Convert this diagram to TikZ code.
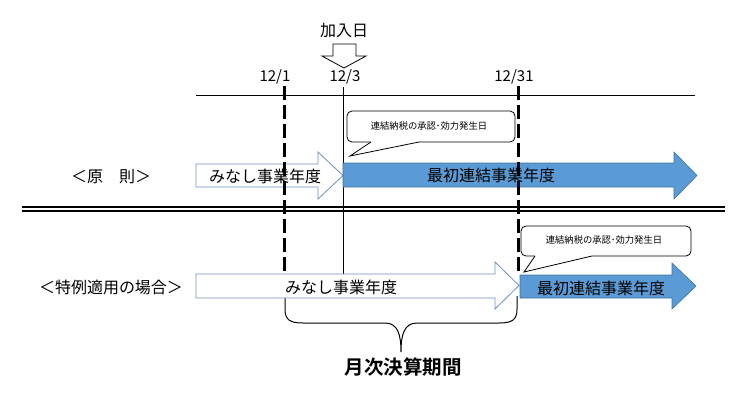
\documentclass[tikz,border=0pt]{standalone}
\usepackage{fontspec}
\setmainfont{Noto Sans CJK JP}
\newfontfamily\jpbold{Noto Sans CJK JP Bold}
\definecolor{bluefill}{RGB}{91,155,213}
\definecolor{blueedge}{RGB}{65,113,156}
\definecolor{whiteedge}{RGB}{110,145,190}
\tikzset{
  lbl/.style={inner sep=0pt, anchor=center},
  txtL/.style={lbl, font=\fontsize{16}{18}\selectfont},
  txtD/.style={lbl, font=\fontsize{15}{17}\selectfont},
  txtS/.style={lbl, font=\fontsize{9.3}{11}\selectfont},
  callout/.style={draw=black, fill=white, line width=0.8pt, rounded corners=5pt},
  whitearrow/.style={draw=whiteedge, fill=white, line width=0.8pt},
  bluearrow/.style={draw=blueedge, fill=bluefill, line width=0.6pt},
  dateline/.style={line width=3pt, dash pattern=on 14pt off 5pt},
  thinline/.style={line width=1pt}
}
\begin{document}
\begin{tikzpicture}[x=1pt,y=-1pt]
\useasboundingbox (0,0) rectangle (745,400);
% timeline
\coordinate (tlA) at (196,95);
\coordinate (tlB) at (695,95);
\draw[thinline] (tlA) -- (tlB);
% date labels
\node[txtD] (d1) at (275,77) {12/1};
\node[txtD] (d3) at (345,77) {12/3};
\node[txtD] (d31) at (514,77) {12/31};
% join-day arrow
\node[txtL] (join) at (344,31) {加入日};
\draw[line width=0.8pt, fill=white] (333,44) -- (356,44) -- (356,56) -- (366,56) -- (344,68) -- (322,56) -- (333,56) -- cycle;
% 12/3 solid line
\coordinate (s3a) at (343,87);
\coordinate (s3b) at (343,274);
\draw[line width=0.9pt] (s3a) -- (s3b);
% double separator
\coordinate (dlA) at (22,207.2);
\coordinate (dlB) at (725,207.2);
\coordinate (dlC) at (22,210.6);
\coordinate (dlD) at (725,210.6);
\draw[line width=2pt] (dlA) -- (dlB);
\draw[line width=2pt] (dlC) -- (dlD);
% upper row
\node[txtL] (principle) at (111,177) {＜原　則＞};
\draw[whitearrow] (196,164) -- (318,164) -- (318,152) -- (343,175.5) -- (318,199) -- (318,187) -- (196,187) -- cycle;
\node[txtL] (mu) at (265,176) {みなし事業年度};
\draw[bluearrow] (343,163) -- (674,163) -- (674,152) -- (697,175.5) -- (674,199) -- (674,187) -- (343,187) -- cycle;
\node[txtL] (bu) at (491,175) {最初連結事業年度};
% upper callout
\draw[callout] (347,111) rectangle (515,142);
\fill[white] (371,140.5) rectangle (419,143.5);
\draw[line width=0.8pt, fill=white] (371,142) -- (350,156) -- (419,142);
\node[txtS] (c1) at (429,126) {連結納税の承認･効力発生日};
% brace
\draw[line width=1pt] (285,296) -- (285,309) .. controls (285,320) and (290,323) .. (303,323) -- (385,323) .. controls (398,323) and (401,335) .. (401,352) .. controls (401,335) and (404,323) .. (417,323) -- (499,323) .. controls (512,323) and (517,320) .. (517,309) -- (517,296);
\node[lbl, font=\jpbold\fontsize{19.5}{22}\selectfont] (period) at (403,367) {月次決算期間};
% dashed date lines
\coordinate (q1a) at (284,86);
\coordinate (q1b) at (284,274);
\coordinate (q2a) at (518,86);
\coordinate (q2b) at (518,274);
\draw[dateline] (q1a) -- (q1b);
\draw[dateline] (q2a) -- (q2b);
% lower row
\node[txtL] (special) at (111,287) {＜特例適用の場合＞};
\draw[whitearrow] (196,274) -- (495,274) -- (495,262) -- (519,285.5) -- (495,309) -- (495,298) -- (196,298) -- cycle;
\node[txtL] (ml) at (341,287) {みなし事業年度};
\draw[bluearrow] (520,275) -- (672,275) -- (672,263) -- (696,286) -- (672,309) -- (672,298) -- (520,298) -- cycle;
\node[txtL] (bl) at (601,288) {最初連結事業年度};
% lower callout
\draw[callout] (521,226) rectangle (691,256);
\fill[white] (535,254.5) rectangle (592,257.5);
\draw[line width=0.8pt, fill=white] (535,256) -- (524,272) -- (592,256);
\node[txtS] (c2) at (604,240) {連結納税の承認･効力発生日};
\end{tikzpicture}
\end{document}
